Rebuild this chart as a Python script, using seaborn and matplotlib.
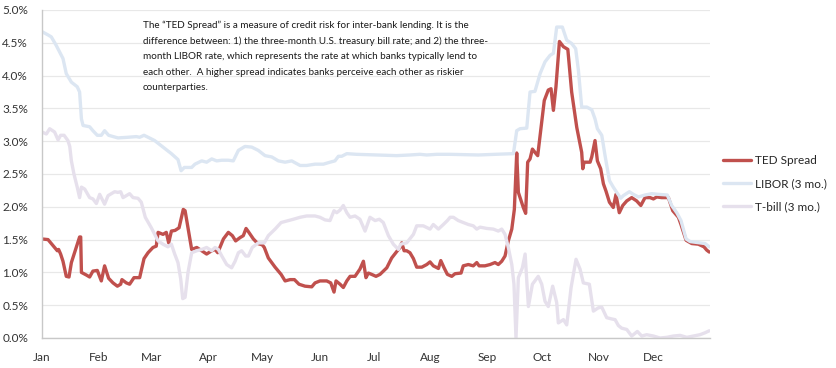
import numpy as np
import pandas as pd
import matplotlib
matplotlib.use('Agg')
import matplotlib.pyplot as plt
import matplotlib.dates as mdates
import seaborn as sns

# values: day of year 2008 and rate in %
ted_days = [0, 3.3, 6.9, 8.4, 9.1, 10.2, 11.5, 13.3, 14.8, 16.1, 20.6, 21.2, 21.6, 24.3, 26.1, 27.9,
            30.3, 32.5, 34.3, 36.5, 38.9, 41.3, 43.1, 43.8, 46.2, 48.0, 50.4, 53.5, 55.9, 58.1, 60.8,
            62.6, 63.6, 66.3, 68.1, 69.4, 70.9, 72.9, 75.1, 77.4, 78.4, 82.0, 84.8, 87.5, 90.2, 93.0,
            94.8, 96.3, 97.5, 99.4, 102.1, 104.3, 106.1, 108.5, 110.3, 111.8, 113.1, 115.8, 118.2,
            120.7, 121.8, 124.0, 127.7, 131.0, 133.2, 135.9, 138.3, 140.8, 144.1, 147.8, 149.6, 152.3,
            156.0, 158.2, 160.0, 161.1, 163.3, 165.1, 167.0, 168.8, 171.5, 174.2, 176.1, 177.5, 178.8,
            180.6, 183.0, 185.2, 188.9, 191.6, 194.7, 196.2, 197.1, 198.4, 199.8, 201.6, 203.5, 205.3,
            208.1, 210.8, 212.6, 214.4, 217.2, 218.5, 220.3, 222.1, 224.5, 226.3, 229.6, 230.8, 233.6,
            236.3, 238.2, 239.5, 242.7, 245.5, 248.2, 250.0, 251.9, 253.7, 255.5, 257.4, 258.8, 260.1,
            261.0, 263.7, 265.0, 266.1, 267.4, 268.7, 270.1, 271.6, 273.8, 275.2, 277.4, 278.9, 280.2,
            281.6, 283.5, 285.7, 288.1, 290.2, 293.0, 295.7, 296.3, 297.0, 300.3, 301.2, 303.0, 304.3,
            306.1, 307.6, 309.0, 310.9, 313.0, 314.5, 316.3, 318.2, 320.4, 323.1, 325.8, 328.1, 330.4,
            333.2, 335.0, 336.8, 339.5, 343.2, 345.6, 348.7, 350.1, 352.9, 356.0, 359.6, 362.7, 364.2,
            365.6]
ted_vals = [1.51, 1.50, 1.38, 1.33, 1.35, 1.28, 1.17, 0.94, 0.93, 1.15, 1.54, 1.54, 1.00, 0.96, 0.93, 1.02,
            1.03, 0.87, 1.10, 0.91, 0.84, 0.79, 0.82, 0.89, 0.84, 0.82, 0.92, 0.92, 1.21, 1.30, 1.38,
            1.40, 1.61, 1.58, 1.61, 1.45, 1.63, 1.64, 1.68, 1.96, 1.94, 1.35, 1.38, 1.33, 1.28, 1.33,
            1.35, 1.30, 1.38, 1.51, 1.61, 1.56, 1.48, 1.53, 1.56, 1.67, 1.62, 1.51, 1.44,
            1.42, 1.38, 1.22, 1.08, 0.97, 0.87, 0.89, 0.89, 0.82, 0.79, 0.78, 0.84, 0.87,
            0.87, 0.84, 0.70, 0.87, 0.82, 0.77, 0.87, 0.94, 0.94, 1.05, 1.17, 0.92, 0.99,
            0.97, 0.94, 0.97, 1.07, 1.22, 1.33, 1.38, 1.45, 1.33, 1.33, 1.30, 1.21, 1.08,
            1.08, 1.12, 1.16, 1.10, 1.06, 1.18, 1.07, 0.97, 0.94, 0.98, 0.99, 1.10, 1.12,
            1.10, 1.15, 1.10, 1.10, 1.12, 1.15, 1.12, 1.17, 1.25, 1.48, 1.66, 1.96, 2.82,
            2.22, 1.99, 1.90, 2.68, 2.73, 2.88, 2.83, 2.78, 3.29, 3.62, 3.78, 3.80, 3.47,
            3.83, 4.52, 4.44, 4.40, 3.75, 3.21, 2.83, 2.58, 2.68, 2.68, 2.76, 3.01, 2.70,
            2.58, 2.35, 2.24, 2.07, 1.99, 2.19, 1.91, 2.02, 2.09, 2.14, 2.09, 2.02, 2.14,
            2.14, 2.12, 2.15, 2.14, 2.14, 1.94, 1.84, 1.73, 1.49, 1.44, 1.43, 1.39, 1.34,
            1.31]

libor_days = [0, 3.3, 5.1, 7.8, 11.5, 13.3, 16.1, 19.3, 20.6, 21.6, 22.5, 26.1, 27.9, 30.3, 32.5, 34.3,
              36.5, 41.6, 47.1, 51.7, 53.5, 55.9, 58.1, 61.7, 66.3, 70.9, 74.5, 76.2, 78.0, 82.0, 83.8,
              87.5, 90.2, 93.0, 95.7, 98.5, 102.1, 104.8, 107.6, 111.2, 114.9, 118.5, 122.2, 125.9,
              129.5, 133.2, 136.8, 141.4, 145.0, 149.6, 154.2, 157.8, 160.5, 162.4, 164.2, 167.0,
              172.4, 183.4, 194.3, 201.6, 207.1, 210.8, 216.3, 223.6, 239.1, 248.2, 258.3, 260.1,
              261.9, 265.6, 267.4, 270.1, 272.9, 275.6, 278.4, 280.2, 282.0, 285.1, 287.5, 290.2,
              292.4, 293.9, 295.7, 298.5, 301.2, 303.0, 304.3, 306.7, 308.5, 310.9, 313.0, 314.9,
              317.1, 318.5, 321.8, 324.0, 326.8, 330.4, 334.1, 337.7, 342.6, 345.0, 347.8, 350.1,
              352.9, 355.1, 360.5, 363.3, 365.6]
libor_vals = [4.67, 4.62, 4.59, 4.46, 4.26, 4.03, 3.90, 3.83, 3.75, 3.34, 3.24, 3.22, 3.16, 3.09, 3.09, 3.16,
              3.09, 3.05, 3.06, 3.07, 3.06, 3.09, 3.06, 3.01, 2.91, 2.81, 2.72, 2.55, 2.60, 2.60, 2.65,
              2.70, 2.68, 2.73, 2.70, 2.71, 2.71, 2.70, 2.86, 2.92, 2.91, 2.86, 2.78, 2.76,
              2.70, 2.68, 2.70, 2.63, 2.63, 2.65, 2.65, 2.68, 2.70, 2.77, 2.77, 2.81,
              2.80, 2.79, 2.78, 2.79, 2.80, 2.79, 2.80, 2.80, 2.79, 2.80, 2.81, 3.16,
              3.19, 3.20, 3.75, 3.76, 4.03, 4.21, 4.31, 4.34, 4.74, 4.74, 4.54, 4.49,
              4.41, 4.08, 3.52, 3.52, 3.48, 3.34, 3.19, 3.09, 2.78, 2.40, 2.30, 2.22,
              2.13, 2.17, 2.23, 2.19, 2.15, 2.18, 2.20, 2.19, 2.18, 2.02, 1.91, 1.79,
              1.51, 1.47, 1.45, 1.44, 1.39]

tbill_days = [0, 2.4, 4.2, 6.9, 8.8, 10.2, 12.1, 14.2, 15.2, 16.1, 17.5, 19.3, 20.6, 21.6, 23.4, 26.1,
              27.9, 29.8, 31.6, 32.5, 34.3, 36.2, 39.8, 41.6, 43.1, 44.4, 46.2, 48.0, 49.9, 52.6, 54.4,
              56.6, 59.9, 63.6, 66.3, 69.0, 70.9, 72.7, 74.5, 76.0, 77.1, 78.4, 80.0, 82.0, 84.8, 87.5,
              90.2, 93.0, 94.8, 96.6, 98.5, 101.2, 103.9, 105.8, 107.6, 109.4, 111.6, 113.1, 115.2,
              118.5, 121.8, 124.0, 127.7, 131.0, 135.0, 137.7, 141.4, 145.0, 149.6, 152.3, 155.1,
              157.8, 160.0, 161.5, 163.3, 165.1, 167.0, 168.8, 171.5, 174.2, 177.0, 179.7, 182.5,
              184.8, 187.0, 189.8, 192.5, 195.3, 196.5, 199.8, 203.5, 205.3, 208.9, 212.6, 214.4,
              217.2, 219.9, 222.1, 223.6, 225.4, 228.1, 230.8, 233.6, 236.3, 238.2, 240.0, 243.7,
              247.3, 250.0, 251.9, 253.7, 255.5, 257.4, 258.6, 259.7, 261.0, 263.2, 264.7, 266.5,
              268.7, 271.9, 273.8, 275.6, 277.4, 279.8, 282.0, 282.9, 285.7, 287.5, 289.9, 292.6,
              294.8, 296.6, 299.9, 302.1, 304.8, 306.7, 309.4, 312.2, 314.0, 315.0, 315.8, 317.6,
              320.4, 323.1, 326.2, 328.6, 331.3, 335.0, 338.6, 342.3, 345.9, 349.6, 353.3, 356.9,
              360.5, 363.3, 365.6]
tbill_vals = [3.14, 3.11, 3.19, 3.14, 3.02, 3.09, 3.09, 3.01, 2.92, 2.70, 2.50, 2.30, 2.14, 2.30, 2.27, 2.14,
              2.12, 2.05, 2.19, 2.14, 2.04, 2.17, 2.23, 2.22, 2.23, 2.14, 2.17, 2.20, 2.14, 2.13, 2.07,
              1.84, 1.68, 1.48, 1.43, 1.39, 1.43, 1.28, 1.15, 0.90, 0.60, 0.62, 1.00, 1.30, 1.33, 1.35,
              1.38, 1.33, 1.38, 1.35, 1.25, 1.12, 1.07, 1.17, 1.30, 1.33, 1.25, 1.25, 1.38,
              1.45, 1.45, 1.56, 1.66, 1.76, 1.79, 1.81, 1.84, 1.86, 1.86, 1.84, 1.80,
              1.79, 1.94, 1.91, 1.95, 2.02, 1.91, 1.84, 1.86, 1.81, 1.63, 1.84, 1.79,
              1.81, 1.76, 1.56, 1.43, 1.35, 1.43, 1.45, 1.58, 1.71, 1.71, 1.66, 1.73,
              1.66, 1.73, 1.79, 1.84, 1.84, 1.79, 1.76, 1.73, 1.71, 1.66, 1.69, 1.67,
              1.66, 1.63, 1.66, 1.58, 1.38, 1.12, 0.82, 0.00, 0.92, 1.07, 1.28, 0.48,
              0.82, 0.94, 0.82, 0.56, 0.48, 0.79, 0.54, 0.23, 0.28, 0.20, 0.77, 1.20,
              1.05, 0.84, 0.82, 0.41, 0.46, 0.47, 0.31, 0.29, 0.28, np.nan, 0.19, 0.15,
              0.13, 0.03, 0.10, 0.03, 0.05, 0.03, 0.00, 0.01, 0.03, 0.04, 0.01, 0.03,
              0.05, 0.08, 0.11]

series_names = ['TED Spread', 'LIBOR (3 mo.)', 'T-bill (3 mo.)']
series_colors = ['#C0504D', '#DCE6F2', '#E6E0EC']
month_starts = pd.date_range('2008-01-01', '2008-12-01', freq='MS')

note_lines = ["The \u201cTED Spread\u201d is a measure of credit risk for inter-bank lending. It is the",
              "difference between: 1) the three-month U.S. treasury bill rate; and 2) the three-",
              "month LIBOR rate, which represents the rate at which banks typically lend to",
              "each other.  A higher spread indicates banks perceive each other as riskier",
              "counterparties."]

# build one long table for seaborn
start = pd.Timestamp('2008-01-01')
frames = []
for name, days, vals in zip(series_names, [ted_days, libor_days, tbill_days],
                            [ted_vals, libor_vals, tbill_vals]):
    frames.append(pd.DataFrame({'Date': start + pd.to_timedelta(days, unit='D'),
                                'Rate': vals, 'Series': name}))
df = pd.concat(frames, ignore_index=True)

sns.set_style('white')
plt.rcParams['font.family'] = ['Lato', 'DejaVu Sans']

fig = plt.figure(figsize=(8.36, 3.68), dpi=100)
ax = fig.add_axes([42 / 836, 30 / 368, 668 / 836, 328 / 368])

sns.lineplot(data=df, x='Date', y='Rate', hue='Series', hue_order=series_names,
             palette=series_colors, linewidth=2.4, ax=ax, legend=True)

ax.set_xlim(pd.Timestamp('2008-01-01'), pd.Timestamp('2009-01-01'))
ax.set_ylim(0, 5)
ax.set_yticks(np.arange(0, 5.01, 0.5))
ax.yaxis.set_major_formatter(plt.FuncFormatter(lambda v, p: f'{v:.1f}%'))
ax.set_xticks(month_starts)
ax.xaxis.set_major_formatter(mdates.DateFormatter('%b'))
ax.set_xlabel('')
ax.set_ylabel('')

ax.grid(axis='y', color='#E8E8E8', linewidth=0.9)
ax.set_axisbelow(True)
for side in ['top', 'right']:
    ax.spines[side].set_visible(False)
for side in ['left', 'bottom']:
    ax.spines[side].set_color('#C8C8C8')
    ax.spines[side].set_linewidth(1.0)
ax.tick_params(axis='x', direction='in', length=4, color='#C8C8C8', pad=10,
               labelsize=8.5, labelcolor='#333333')
ax.tick_params(axis='y', length=0, pad=10, labelsize=8.5, labelcolor='#333333')

# legend on the right
handles, labels = ax.get_legend_handles_labels()
ax.legend(handles, labels, loc='upper left', bbox_to_anchor=(718 / 836, 1 - 150 / 368),
          bbox_transform=fig.transFigure, frameon=False, fontsize=8.5,
          handlelength=2.4, handletextpad=0.3, labelspacing=1.05, borderaxespad=0)

# explanatory note, one line at a time; size fitted so the text block is ~340px wide
note_texts = []
for i, line in enumerate(note_lines):
    y_px = 28 + 15.6 * i
    note_texts.append(fig.text(143 / 836, 1 - y_px / 368, line, ha='left', va='baseline',
                               fontsize=7.5, color='#1a1a1a'))
fig.canvas.draw()
renderer = fig.canvas.get_renderer()
widest = max(t.get_window_extent(renderer).width for t in note_texts[:2])
for t in note_texts:
    t.set_fontsize(7.5 * 340 / widest)

fig.savefig('out.png', dpi=100)
